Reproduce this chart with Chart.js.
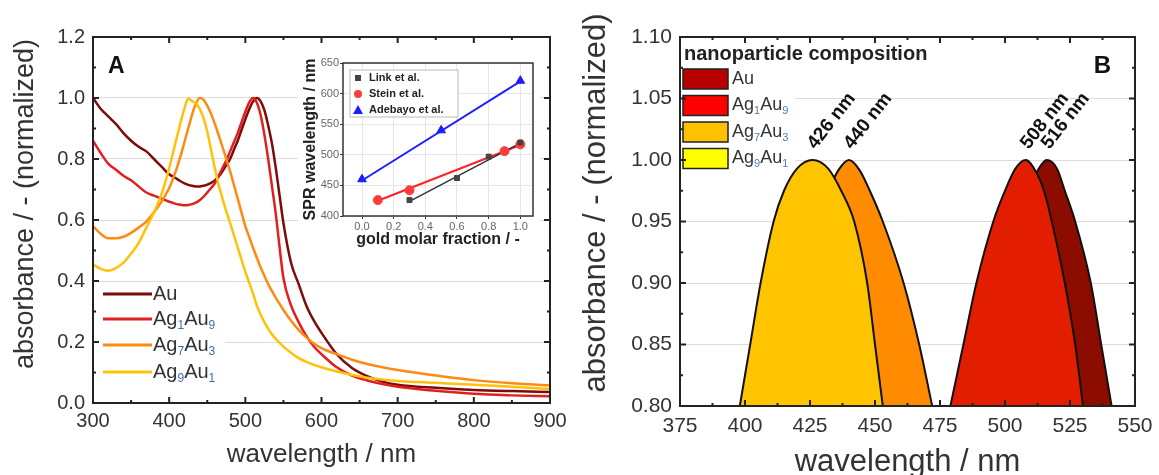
<!DOCTYPE html>
<html lang="en">
<head>
  <meta charset="UTF-8" />
  <title>Ag-Au nanoparticle absorbance spectra</title>
  <script src="https://cdn.jsdelivr.net/npm/chart.js"></script>
  <style>
    body {
      margin: 0;
      background: #fff;
      width: 1159px;
      height: 475px;
      overflow: hidden;
      position: relative;
      font-family: 'Liberation Sans', Arial, sans-serif;
    }
    .box { position: absolute; }
    #boxA { left: 0; top: 0; width: 580px; height: 475px; }
    #boxInset { left: 298px; top: 48px; width: 242px; height: 205px; background: #fff; }
    #boxB { left: 580px; top: 0; width: 579px; height: 475px; }
  </style>
</head>
<body>
  <div class="box" id="boxA"><canvas id="chartA"></canvas></div>
  <div class="box" id="boxInset"><canvas id="chartInset"></canvas></div>
  <div class="box" id="boxB"><canvas id="chartB"></canvas></div>

  <script>
    const wavelengths = [300, 310, 320, 330, 340, 350, 360, 370, 380, 390, 400,
      405, 410, 415, 420, 425, 430, 435, 440, 445, 450, 455, 460, 465, 470, 475,
      480, 485, 490, 495, 500, 505, 510, 515, 520, 525, 530, 535, 540, 545,
      550, 560, 570, 580, 590, 600,
      620, 640, 660, 680, 700, 750, 800, 850, 900];

    const absAu = [1.00, 0.965, 0.94, 0.915, 0.885, 0.86, 0.84, 0.825, 0.80, 0.775, 0.75,
      0.742, 0.735, 0.727, 0.72, 0.715, 0.712, 0.71, 0.71, 0.712, 0.716, 0.722, 0.73, 0.743, 0.76, 0.78,
      0.80, 0.83, 0.86, 0.895, 0.93, 0.962, 0.988, 1.0, 0.99, 0.96, 0.91, 0.85, 0.77, 0.68,
      0.59, 0.46, 0.39, 0.32, 0.27, 0.23,
      0.16, 0.115, 0.088, 0.07, 0.06, 0.05, 0.043, 0.039, 0.036];

    const absAg1Au9 = [0.86, 0.82, 0.785, 0.765, 0.745, 0.73, 0.71, 0.69, 0.68, 0.67, 0.66,
      0.656, 0.652, 0.65, 0.648, 0.649, 0.652, 0.657, 0.665, 0.676, 0.69, 0.705, 0.72, 0.745, 0.77, 0.795,
      0.825, 0.855, 0.885, 0.92, 0.955, 0.985, 1.0, 0.985, 0.945, 0.88, 0.80, 0.71, 0.62, 0.51,
      0.41, 0.32, 0.265, 0.22, 0.185, 0.16,
      0.117, 0.09, 0.074, 0.062, 0.053, 0.04, 0.03, 0.025, 0.022];

    const absAg7Au3 = [0.58, 0.555, 0.54, 0.54, 0.545, 0.558, 0.575, 0.595, 0.625, 0.66, 0.705,
      0.735, 0.77, 0.81, 0.855, 0.9, 0.945, 0.98, 1.0, 0.995, 0.975, 0.948, 0.915, 0.878, 0.84, 0.80,
      0.76, 0.715, 0.67, 0.625, 0.58, 0.545, 0.51, 0.477, 0.445, 0.417, 0.39, 0.367, 0.345, 0.325,
      0.305, 0.27, 0.24, 0.215, 0.195, 0.18,
      0.16, 0.142, 0.128, 0.117, 0.108, 0.09, 0.075, 0.065, 0.058];

    const absAg9Au1 = [0.455, 0.44, 0.434, 0.442, 0.46, 0.49, 0.525, 0.575, 0.625, 0.685, 0.77,
      0.82, 0.87, 0.92, 0.965, 0.998, 0.99, 0.982, 0.965, 0.935, 0.89, 0.83, 0.77, 0.715, 0.67, 0.628,
      0.59, 0.55, 0.51, 0.47, 0.43, 0.395, 0.36, 0.32, 0.29, 0.265, 0.243, 0.225, 0.21, 0.197,
      0.185, 0.165, 0.147, 0.135, 0.125, 0.117,
      0.103, 0.092, 0.083, 0.077, 0.072, 0.066, 0.06, 0.053, 0.046];

    const seriesLabels = ['Au', 'Ag_1Au_9', 'Ag_7Au_3', 'Ag_9Au_1'];
    const lineColors = ['#7d0b0b', '#e0201c', '#ff8a12', '#ffc20a'];

    const xTicksA = [300, 400, 500, 600, 700, 800, 900];
    const xMinorA = [350, 450, 550, 650, 750, 850];
    const yTicksA = [0, 0.2, 0.4, 0.6, 0.8, 1.0, 1.2];
    const yMinorA = [0.1, 0.3, 0.5, 0.7, 0.9, 1.1];

    // ---- inset: SPR position vs gold fraction ----
    const linkX = [0.3, 0.6, 0.8, 1.0];
    const linkY = [426, 462, 497, 520];
    const steinX = [0.1, 0.3, 0.9, 1.0];
    const steinY = [426, 442, 506, 517];
    const adebayoX = [0.0, 0.5, 1.0];
    const adebayoY = [460, 540, 621];
    const linkFitX = [0.3, 1.0];
    const linkFitY = [424, 519];
    const steinFitX = [0.1, 1.0];
    const steinFitY = [425, 516];
    const adebayoFitX = [0.0, 1.0];
    const adebayoFitY = [458, 620];
    const xTicksInset = [0, 0.2, 0.4, 0.6, 0.8, 1.0];
    const yTicksInset = [400, 450, 500, 550, 600, 650];

    // ---- panel B: peak tops ----
    const topAuX = [491, 495, 499, 505, 509, 513, 516, 520, 523, 527, 533, 537, 541];
    const topAuY = [0.80, 0.85, 0.90, 0.95, 0.975, 0.993, 1.0, 0.993, 0.975, 0.95, 0.90, 0.85, 0.80];
    const topAg1Au9X = [479, 484, 489, 495.5, 500, 504, 508, 512, 515, 518, 523, 527, 530];
    const topAg1Au9Y = [0.80, 0.85, 0.90, 0.95, 0.975, 0.993, 1.0, 0.99, 0.975, 0.95, 0.90, 0.85, 0.80];
    const topAg7Au3X = [408, 413, 418, 427, 432, 436, 440, 444, 448, 453, 461, 467, 472];
    const topAg7Au3Y = [0.80, 0.85, 0.90, 0.95, 0.975, 0.992, 1.0, 0.992, 0.975, 0.95, 0.90, 0.85, 0.80];
    const topAg9Au1X = [398, 402, 406, 411, 415, 420, 426, 432, 437, 442, 447, 450, 453];
    const topAg9Au1Y = [0.80, 0.85, 0.90, 0.95, 0.975, 0.993, 1.0, 0.993, 0.975, 0.95, 0.90, 0.85, 0.80];
    const fillColors = ['#8c0c00', '#e31e00', '#ff8c00', '#ffc400'];
    const swatchColors = ['#b80000', '#ff0000', '#ffc000', '#ffff00'];
    const peakNm = [426, 440, 508, 516];
    const peakText = ['426 nm', '440 nm', '508 nm', '516 nm'];
    const xTicksB = [375, 400, 425, 450, 475, 500, 525, 550];
    const xMinorB = [387.5, 412.5, 437.5, 462.5, 487.5, 512.5, 537.5];
    const yTicksB = [0.80, 0.85, 0.90, 0.95, 1.00, 1.05, 1.10];
    const yMinorB = [0.825, 0.875, 0.925, 0.975, 1.025, 1.075];

    const FONT = "'Liberation Sans', Arial, sans-serif";
    Chart.defaults.font.family = FONT;
    Chart.defaults.color = '#333';
    Chart.defaults.animation = false;

    const pairs = (xs, ys) => xs.map((v, i) => ({ x: v, y: ys[i] }));
    const setTicks = vals => axis => { axis.ticks = vals.map(v => ({ value: v })); };

    // text with numeric subscripts, e.g. "Ag_1Au_9"
    function drawChem(ctx, label, x, y, size, color, subColor) {
      let cx = x;
      ctx.textBaseline = 'middle';
      ctx.textAlign = 'left';
      label.split(/(_\d)/).filter(Boolean).forEach(p => {
        if (p[0] === '_') {
          ctx.font = Math.round(size * 0.62) + 'px ' + FONT;
          ctx.fillStyle = subColor;
          ctx.fillText(p.slice(1), cx, y + size * 0.32);
          cx += ctx.measureText(p.slice(1)).width;
        } else {
          ctx.font = size + 'px ' + FONT;
          ctx.fillStyle = color;
          ctx.fillText(p, cx, y);
          cx += ctx.measureText(p).width;
        }
      });
    }

    // rotated y-axis title, placed a bit above the middle as in the figure
    function drawYTitle(ctx, text, cx, cy, size) {
      ctx.save();
      ctx.translate(cx, cy);
      ctx.rotate(-Math.PI / 2);
      ctx.font = size + 'px ' + FONT;
      ctx.fillStyle = '#333';
      ctx.textAlign = 'center';
      ctx.textBaseline = 'middle';
      ctx.fillText(text, 0, 0);
      ctx.restore();
    }

    // box round the plot with inward ticks on all four sides
    const framePlugin = {
      id: 'frame',
      afterDatasetsDraw(chart, args, o) {
        const { ctx, chartArea: a, scales: { x, y } } = chart;
        ctx.save();
        ctx.strokeStyle = o.color || '#222';
        ctx.lineWidth = o.lineWidth || 2;
        ctx.beginPath();
        const xt = (vals, len) => (vals || []).forEach(v => {
          const p = x.getPixelForValue(v);
          ctx.moveTo(p, a.bottom); ctx.lineTo(p, a.bottom - len);
          ctx.moveTo(p, a.top); ctx.lineTo(p, a.top + len);
        });
        const yt = (vals, len) => (vals || []).forEach(v => {
          const p = y.getPixelForValue(v);
          ctx.moveTo(a.left, p); ctx.lineTo(a.left + len, p);
          ctx.moveTo(a.right, p); ctx.lineTo(a.right - len, p);
        });
        xt(o.xMajor, 6); xt(o.xMinor, 3);
        yt(o.yMajor, 6); yt(o.yMinor, 3);
        ctx.stroke();
        ctx.strokeRect(a.left, a.top, a.width, a.height);
        ctx.restore();
      }
    };

    const legendA = {
      id: 'legendA',
      afterDatasetsDraw(chart) {
        const { ctx, chartArea: a } = chart;
        ctx.save();
        ctx.fillStyle = '#fff';
        ctx.fillRect(a.left + 4, 283, 128, 106);
        const rows = [294, 319, 345, 372];
        seriesLabels.forEach((lab, i) => {
          ctx.strokeStyle = lineColors[i];
          ctx.lineWidth = 3;
          ctx.beginPath();
          ctx.moveTo(a.left + 10, rows[i]);
          ctx.lineTo(a.left + 59, rows[i]);
          ctx.stroke();
          drawChem(ctx, lab, a.left + 60, rows[i], 20, '#333', '#3f6fae');
        });
        ctx.font = 'bold 23px ' + FONT;
        ctx.fillStyle = '#111';
        ctx.textBaseline = 'alphabetic';
        ctx.fillText('A', a.left + 15, a.top + 36);
        ctx.restore();
        drawYTitle(ctx, 'absorbance / - (normalized)', 26, 204, 27);
      }
    };

    new Chart(document.getElementById('chartA'), {
      type: 'line',
      data: {
        datasets: [absAu, absAg1Au9, absAg7Au3, absAg9Au1].map((vals, i) => ({
          label: seriesLabels[i],
          data: pairs(wavelengths, vals),
          borderColor: lineColors[i],
          borderWidth: 2.5,
          pointRadius: 0,
          cubicInterpolationMode: 'monotone',
          order: 4 - i
        }))
      },
      options: {
        responsive: true,
        maintainAspectRatio: false,
        layout: { padding: { top: 37, right: 30, left: 0, bottom: 0 } },
        plugins: {
          legend: { display: false },
          tooltip: { enabled: false },
          frame: { xMajor: xTicksA, xMinor: xMinorA, yMajor: yTicksA, yMinor: yMinorA }
        },
        scales: {
          x: {
            type: 'linear', min: 300, max: 900,
            afterBuildTicks: setTicks(xTicksA),
            afterFit: s => { s.height = 72; },
            grid: { display: false },
            border: { display: false },
            ticks: { font: { size: 20 }, color: '#333', padding: -2, autoSkip: false, maxRotation: 0 },
            title: { display: true, text: 'wavelength / nm', color: '#333',
              font: { size: 26, lineHeight: 1 }, padding: { top: 0, bottom: 7 } }
          },
          y: {
            min: 0, max: 1.2,
            afterBuildTicks: setTicks(yTicksA),
            afterFit: s => { s.width = 93; },
            grid: { color: '#dcdcdc', drawTicks: false },
            border: { display: false },
            ticks: { font: { size: 20 }, color: '#333', padding: 8, autoSkip: false,
              callback: v => v.toFixed(1) }
          }
        }
      },
      plugins: [legendA, framePlugin]
    });

    // ---- inset ----
    const legendInset = {
      id: 'legendInset',
      afterDatasetsDraw(chart) {
        const { ctx, chartArea: a } = chart;
        const bx = a.left + 7, by = a.top + 7;
        ctx.save();
        ctx.fillStyle = '#fff';
        ctx.strokeStyle = '#bbb';
        ctx.lineWidth = 1;
        ctx.fillRect(bx, by, 108, 47);
        ctx.strokeRect(bx, by, 108, 47);
        const items = [
          ['Link et al.', '#444', 'rect'],
          ['Stein et al.', '#ff3c3c', 'circle'],
          ['Adebayo et al.', '#1c1cff', 'triangle']
        ];
        items.forEach((it, i) => {
          const cy = by + 8 + i * 16;
          ctx.fillStyle = it[1];
          ctx.beginPath();
          if (it[2] === 'rect') ctx.rect(bx + 5, cy - 3, 6, 6);
          else if (it[2] === 'circle') ctx.arc(bx + 8, cy, 4, 0, Math.PI * 2);
          else { ctx.moveTo(bx + 8, cy - 5); ctx.lineTo(bx + 13, cy + 4); ctx.lineTo(bx + 3, cy + 4); ctx.closePath(); }
          ctx.fill();
          ctx.font = 'bold 11px ' + FONT;
          ctx.fillStyle = '#222';
          ctx.textBaseline = 'middle';
          ctx.fillText(it[0], bx + 19, cy);
        });
        ctx.restore();
      }
    };

    const fitLine = (xs, ys, color, w) => ({
      data: pairs(xs, ys), borderColor: color, borderWidth: w, pointRadius: 0, showLine: true
    });
    const markers = (xs, ys, color, style, r) => ({
      data: pairs(xs, ys), showLine: false, pointStyle: style, pointRadius: r,
      backgroundColor: color, borderColor: color, borderWidth: 1
    });

    new Chart(document.getElementById('chartInset'), {
      type: 'line',
      data: {
        datasets: [
          markers(linkX, linkY, '#444', 'rect', 3.5),
          markers(steinX, steinY, '#ff3c3c', 'circle', 4.5),
          markers(adebayoX, adebayoY, '#1c1cff', 'triangle', 5),
          fitLine(linkFitX, linkFitY, '#333', 1.5),
          fitLine(steinFitX, steinFitY, '#ff2222', 2),
          fitLine(adebayoFitX, adebayoFitY, '#2020ff', 2)
        ]
      },
      options: {
        responsive: true,
        maintainAspectRatio: false,
        layout: { padding: { top: 15, right: 7, left: 0, bottom: 0 } },
        plugins: {
          legend: { display: false },
          tooltip: { enabled: false },
          frame: { lineWidth: 1.5, color: '#333' }
        },
        scales: {
          x: {
            type: 'linear', min: -0.12, max: 1.08,
            afterBuildTicks: setTicks(xTicksInset),
            afterFit: s => { s.height = 37; },
            grid: { color: '#e6e6e6', tickLength: 3, tickColor: '#333' },
            border: { display: false },
            ticks: { font: { size: 11 }, color: '#666', padding: 1, autoSkip: false, maxRotation: 0,
              callback: v => v.toFixed(1) },
            title: { display: true, text: 'gold molar fraction / -', color: '#222',
              font: { size: 16, weight: 'bold', lineHeight: 1 }, padding: { top: 0, bottom: 5 } }
          },
          y: {
            min: 400, max: 650,
            afterBuildTicks: setTicks(yTicksInset),
            afterFit: s => { s.width = 45; },
            grid: { color: '#e6e6e6', tickLength: 3, tickColor: '#333' },
            border: { display: false },
            ticks: { font: { size: 11 }, color: '#666', padding: 1, autoSkip: false },
            title: { display: true, text: 'SPR wavelength / nm', color: '#222',
              font: { size: 16, weight: 'bold', lineHeight: 1 }, padding: { top: 5, bottom: 0 } }
          }
        }
      },
      plugins: [legendInset, framePlugin]
    });

    // ---- panel B ----
    const legendB = {
      id: 'legendB',
      beforeDatasetsDraw(chart) {
        const { ctx, chartArea: a } = chart;
        ctx.save();
        ctx.fillStyle = '#fff';
        ctx.fillRect(a.left + 1, a.top + 2, 114, 134);
        ctx.font = 'bold 20px ' + FONT;
        ctx.fillStyle = '#222';
        ctx.textBaseline = 'alphabetic';
        ctx.fillText('nanoparticle composition', a.left + 4, a.top + 23);
        seriesLabels.forEach((lab, i) => {
          const y0 = a.top + 32 + i * 26.5;
          ctx.fillStyle = swatchColors[i];
          ctx.fillRect(a.left + 3, y0, 45, 20);
          ctx.strokeStyle = '#222';
          ctx.lineWidth = 1.5;
          ctx.strokeRect(a.left + 3, y0, 45, 20);
          drawChem(ctx, lab, a.left + 52, y0 + 10, 18, '#333', '#4a7fc0');
        });
        ctx.restore();
      },
      afterDatasetsDraw(chart) {
        const { ctx, chartArea: a, scales: { x, y } } = chart;
        ctx.save();
        ctx.font = 'bold 19px ' + FONT;
        ctx.fillStyle = '#111';
        ctx.textBaseline = 'alphabetic';
        ctx.textAlign = 'left';
        peakNm.forEach((nm, i) => {
          ctx.save();
          ctx.translate(x.getPixelForValue(nm) + 3, y.getPixelForValue(1.0) - 10);
          ctx.rotate(-52 * Math.PI / 180);
          ctx.fillText(peakText[i], 0, 0);
          ctx.restore();
        });
        ctx.font = 'bold 24px ' + FONT;
        ctx.textAlign = 'right';
        ctx.fillText('B', a.right - 24, a.top + 36);
        ctx.restore();
        drawYTitle(ctx, 'absorbance / - (normalized)', 16, 203, 31);
      }
    };

    const tops = [[topAuX, topAuY], [topAg1Au9X, topAg1Au9Y], [topAg7Au3X, topAg7Au3Y], [topAg9Au1X, topAg9Au1Y]];

    new Chart(document.getElementById('chartB'), {
      type: 'line',
      data: {
        datasets: tops.map((t, i) => ({
          label: seriesLabels[i],
          data: pairs(t[0], t[1]),
          borderColor: '#111',
          borderWidth: 2,
          backgroundColor: fillColors[i],
          fill: 'start',
          pointRadius: 0,
          cubicInterpolationMode: 'monotone',
          order: 4 - i
        }))
      },
      options: {
        responsive: true,
        maintainAspectRatio: false,
        layout: { padding: { top: 37, right: 24, left: 0, bottom: 0 } },
        plugins: {
          legend: { display: false },
          tooltip: { enabled: false },
          frame: { xMajor: xTicksB, xMinor: xMinorB, yMajor: yTicksB, yMinor: yMinorB }
        },
        scales: {
          x: {
            type: 'linear', min: 375, max: 550,
            afterBuildTicks: setTicks(xTicksB),
            afterFit: s => { s.height = 69; },
            grid: { display: false },
            border: { display: false },
            ticks: { font: { size: 21 }, color: '#333', padding: 0, autoSkip: false, maxRotation: 0 },
            title: { display: true, text: 'wavelength / nm', color: '#333',
              font: { size: 31, lineHeight: 0.8 }, padding: { top: 0, bottom: 0.6 } }
          },
          y: {
            min: 0.8, max: 1.1,
            afterBuildTicks: setTicks(yTicksB),
            afterFit: s => { s.width = 100; },
            grid: { color: '#dcdcdc', drawTicks: false },
            border: { display: false },
            ticks: { font: { size: 21 }, color: '#333', padding: 8, autoSkip: false,
              callback: v => v.toFixed(2) }
          }
        }
      },
      plugins: [legendB, framePlugin]
    });
  </script>
</body>
</html>
